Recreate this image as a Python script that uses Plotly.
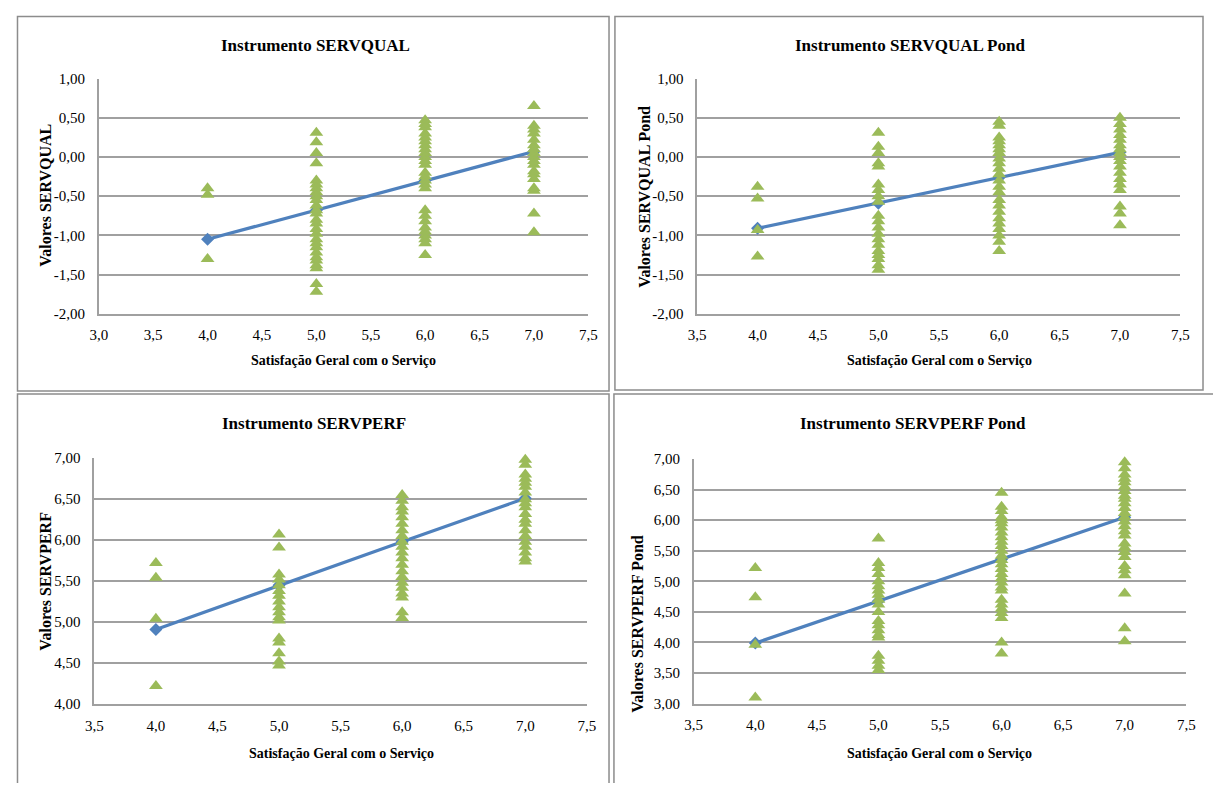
import plotly.graph_objects as go

# ---------------- data ----------------
satisf_levels = [4, 5, 6, 7]

# SERVQUAL
sq_4 = [-0.40, -0.48, -1.30]
sq_5 = [0.31, 0.19, 0.05, -0.08, -0.30, -0.35, -0.40, -0.45, -0.50, -0.55, -0.62, -0.68, -0.72,
        -0.80, -0.85, -0.92, -0.98, -1.05, -1.10, -1.15, -1.22, -1.28, -1.32, -1.38, -1.42, -1.62, -1.72]
sq_6 = [0.47, 0.42, 0.38, 0.30, 0.25, 0.20, 0.15, 0.10, 0.05, 0.00, -0.05, -0.10, -0.20, -0.25,
        -0.30, -0.35, -0.40, -0.68, -0.75, -0.82, -0.90, -0.95, -1.00, -1.05, -1.10, -1.25]
sq_7 = [0.65, 0.40, 0.35, 0.30, 0.22, 0.15, 0.10, 0.05, 0.00, -0.05, -0.10, -0.18, -0.22, -0.28,
        -0.40, -0.43, -0.72, -0.96]
sq_trend = [-1.05, -0.68, -0.30, 0.07]

# SERVQUAL Pond
sqp_4 = [-0.38, -0.53, -0.93, -1.27]
sqp_5 = [0.31, 0.13, 0.05, -0.08, -0.12, -0.35, -0.42, -0.50, -0.57, -0.75, -0.82, -0.90, -0.98,
         -1.05, -1.12, -1.20, -1.25, -1.30, -1.38, -1.44]
sqp_6 = [0.45, 0.40, 0.25, 0.20, 0.15, 0.10, 0.05, -0.02, -0.08, -0.15, -0.22, -0.30, -0.38, -0.45,
         -0.55, -0.62, -0.70, -0.78, -0.85, -0.92, -1.00, -1.08, -1.20]
sqp_7 = [0.50, 0.42, 0.35, 0.28, 0.22, 0.15, 0.10, 0.05, 0.00, -0.05, -0.12, -0.20, -0.28, -0.35,
         -0.42, -0.63, -0.72, -0.87]
sqp_trend = [-0.91, -0.59, -0.26, 0.06]

# SERVPERF
sp_4 = [5.72, 5.54, 5.04, 4.22]
sp_5 = [6.07, 5.91, 5.58, 5.52, 5.45, 5.38, 5.32, 5.25, 5.18, 5.12, 5.06, 5.02, 4.80, 4.75, 4.62,
        4.52, 4.47]
sp_6 = [6.55, 6.48, 6.40, 6.35, 6.28, 6.20, 6.12, 6.05, 5.98, 5.92, 5.85, 5.78, 5.70, 5.62, 5.55,
        5.48, 5.42, 5.35, 5.30, 5.12, 5.05]
sp_7 = [6.98, 6.92, 6.80, 6.75, 6.70, 6.65, 6.58, 6.50, 6.45, 6.40, 6.32, 6.25, 6.20, 6.12, 6.05,
        5.98, 5.92, 5.85, 5.78, 5.74]
sp_trend = [4.91, 5.45, 5.98, 6.51]

# SERVPERF Pond
spp_4 = [5.22, 4.74, 3.96, 3.10]
spp_5 = [5.70, 5.30, 5.22, 5.12, 5.00, 4.92, 4.85, 4.78, 4.70, 4.62, 4.50, 4.35, 4.28, 4.20, 4.12,
         4.08, 3.78, 3.70, 3.62, 3.55]
spp_6 = [6.45, 6.22, 6.15, 6.05, 6.00, 5.95, 5.88, 5.80, 5.72, 5.65, 5.58, 5.50, 5.42, 5.35, 5.28,
         5.20, 5.12, 5.05, 4.98, 4.90, 4.85, 4.70, 4.62, 4.55, 4.48, 4.40, 4.00, 3.82]
spp_7 = [6.95, 6.85, 6.75, 6.68, 6.62, 6.55, 6.48, 6.40, 6.35, 6.28, 6.20, 6.12, 6.05, 5.98, 5.90,
         5.82, 5.75, 5.62, 5.55, 5.48, 5.40, 5.25, 5.18, 5.10, 4.80, 4.23, 4.02]
spp_trend = [3.99, 4.68, 5.36, 6.05]

titles = ["Instrumento SERVQUAL", "Instrumento SERVQUAL Pond",
          "Instrumento SERVPERF", "Instrumento SERVPERF Pond"]
ytitles = ["Valores SERVQUAL", "Valores SERVQUAL Pond",
           "Valores SERVPERF", "Valores SERVPERF Pond"]
xtitle = "Satisfação Geral com o Serviço"
x_ticks = [[3.0, 3.5, 4.0, 4.5, 5.0, 5.5, 6.0, 6.5, 7.0, 7.5],
           [3.5, 4.0, 4.5, 5.0, 5.5, 6.0, 6.5, 7.0, 7.5],
           [3.5, 4.0, 4.5, 5.0, 5.5, 6.0, 6.5, 7.0, 7.5],
           [3.5, 4.0, 4.5, 5.0, 5.5, 6.0, 6.5, 7.0, 7.5]]
y_ticks = [[-2.0, -1.5, -1.0, -0.5, 0.0, 0.5, 1.0],
           [-2.0, -1.5, -1.0, -0.5, 0.0, 0.5, 1.0],
           [4.0, 4.5, 5.0, 5.5, 6.0, 6.5, 7.0],
           [3.0, 3.5, 4.0, 4.5, 5.0, 5.5, 6.0, 6.5, 7.0]]

panels = [
    (sq_4, sq_5, sq_6, sq_7, sq_trend),
    (sqp_4, sqp_5, sqp_6, sqp_7, sqp_trend),
    (sp_4, sp_5, sp_6, sp_7, sp_trend),
    (spp_4, spp_5, spp_6, spp_7, spp_trend),
]

# ---------------- layout (page-pixel geometry) ----------------
PAGE_W, PAGE_H = 1221, 791
BODY_MARGIN = 8                      # default browser body margin
W, H = PAGE_W - 2 * BODY_MARGIN, PAGE_H - 2 * BODY_MARGIN
plot_px = [(91, 588, 72, 312), (698.5, 1189, 72, 312),
           (86.5, 586.5, 459.5, 710.5), (695, 1195, 460.5, 710)]
title_px = [(311, 38), (915, 38), (310, 424), (918, 424)]
xt_px = [(339, 360), (944, 360), (337, 761), (944, 761)]
yt_px = [(37, 191), (645, 192), (37, 585), (638, 629)]
box_px = [(8.5, 609, 8.5, 391), (615, 1212, 8.5, 390), (8.5, 609, 394, 800), (614, 1230, 394, 800)]

GREEN = "#9BBB59"
BLUE = "#4F81BD"
GRID = "#A0A0A0"
SERIF = "Liberation Serif"


def px_x(v):
    return (v - BODY_MARGIN) / W


def px_y(v):
    return 1 - (v - BODY_MARGIN) / H


def fmt(v, nd):
    return f"{v:.{nd}f}".replace(".", ",")


fig = go.Figure()
layout = dict(
    width=W, height=H, margin=dict(l=0, r=0, t=0, b=0, pad=0),
    paper_bgcolor="white", plot_bgcolor="white", showlegend=False,
    font=dict(family=SERIF, color="black"),
)
annotations = []
shapes = []

for i, (v4, v5, v6, v7, trend) in enumerate(panels):
    n = "" if i == 0 else str(i + 1)
    xa, ya = "x" + n, "y" + n
    l, r, t, b = plot_px[i]
    layout["xaxis" + n] = dict(
        domain=[px_x(l), px_x(r)], range=[x_ticks[i][0], x_ticks[i][-1]], anchor=ya,
        tickvals=x_ticks[i], ticktext=[fmt(v, 1) for v in x_ticks[i]],
        showgrid=False, zeroline=False,
        showline=True, linecolor=GRID, linewidth=1.5,
        ticks="outside", ticklen=7, tickcolor="rgba(0,0,0,0)",
        tickfont=dict(family=SERIF, size=15, color="black"),
    )
    layout["yaxis" + n] = dict(
        domain=[px_y(b), px_y(t)], range=[y_ticks[i][0], y_ticks[i][-1]], anchor=xa,
        tickvals=y_ticks[i], ticktext=[fmt(v, 2) for v in y_ticks[i]],
        showgrid=True, gridcolor=GRID, gridwidth=1.5,
        zeroline=False, showline=True, linecolor=GRID, linewidth=1.5,
        ticks="outside", ticklen=9, tickcolor="rgba(0,0,0,0)",
        tickfont=dict(family=SERIF, size=15, color="black"),
    )
    fig.add_trace(go.Scatter(
        x=satisf_levels, y=trend, mode="lines+markers", xaxis=xa, yaxis=ya,
        line=dict(color=BLUE, width=3.2),
        marker=dict(symbol="diamond", size=10, color=BLUE),
        cliponaxis=False, hoverinfo="skip",
    ))
    xs, ys = [], []
    for lvl, vals in zip(satisf_levels, (v4, v5, v6, v7)):
        xs += [lvl] * len(vals)
        ys += vals
    fig.add_trace(go.Scatter(
        x=xs, y=ys, mode="markers", xaxis=xa, yaxis=ya,
        marker=dict(symbol="triangle-up", size=12, color=GREEN),
        cliponaxis=False,
    ))
    tx, ty = title_px[i]
    annotations.append(dict(text="<b>" + titles[i] + "</b>", x=px_x(tx), y=px_y(ty),
                            xref="paper", yref="paper", showarrow=False,
                            xanchor="center", yanchor="middle",
                            font=dict(family=SERIF, size=17, color="black")))
    xx, xy = xt_px[i]
    annotations.append(dict(text="<b>" + xtitle + "</b>", x=px_x(xx), y=px_y(xy),
                            xref="paper", yref="paper", showarrow=False,
                            xanchor="center", yanchor="middle",
                            font=dict(family=SERIF, size=14, color="black")))
    yx, yy = yt_px[i]
    annotations.append(dict(text="<b>" + ytitles[i] + "</b>", x=px_x(yx), y=px_y(yy),
                            xref="paper", yref="paper", showarrow=False, textangle=-90,
                            xanchor="center", yanchor="middle",
                            font=dict(family=SERIF, size=16, color="black")))
    bl, br, bt, bb = box_px[i]
    shapes.append(dict(type="rect", xref="paper", yref="paper",
                       x0=px_x(bl), x1=px_x(br), y0=px_y(bb), y1=px_y(bt),
                       line=dict(color="#8C8C8C", width=1.5), fillcolor="rgba(0,0,0,0)"))

layout["annotations"] = annotations
layout["shapes"] = shapes
fig.update_layout(**layout)
fig.write_html("out.html", config={"displayModeBar": False})
